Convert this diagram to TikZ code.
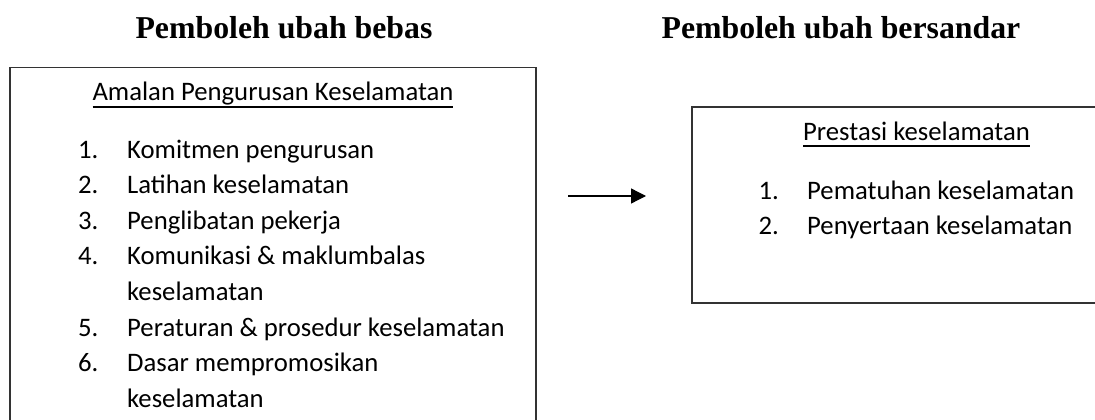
\documentclass[tikz,border=0pt]{standalone}
\usepackage{fontspec}
\setmainfont{Carlito}
\newfontfamily\titlefont{Liberation Serif}
\usetikzlibrary{arrows.meta}
\tikzset{judul/.style={font=\titlefont\bfseries\fontsize{31.8}{38}\selectfont,anchor=base,inner sep=0pt},
  kotak/.style={draw=black!80,line width=1.5pt,anchor=north west,inner sep=0pt},
  teks/.style={font=\fontsize{26.7}{36}\selectfont,anchor=base west,inner sep=0pt}}
\newsavebox{\garisbox}
\newcommand{\garis}[1]{\sbox{\garisbox}{#1}\rlap{\rule[-7pt]{\wd\garisbox}{2pt}}\usebox{\garisbox}}

\begin{document}
\begin{tikzpicture}[x=1pt,y=-1pt]
    \useasboundingbox (0,0) rectangle (1095,420);

    \node[judul] (bebas) at (284,39) {Pemboleh ubah bebas};
    \node[judul] (sandar) at (841,39) {Pemboleh ubah bersandar};

    % kotak kiri dan kanan
    \node[kotak,minimum width=526pt,minimum height=390pt] (amalan) at (9,67) {};
    \node[kotak,minimum width=430pt,minimum height=196pt] (prestasi) at (691,106) {};

    \node[teks,anchor=base] (tajukA) at (273,100.5) {\garis{Amalan Pengurusan Keselamatan}};
    \node[teks] (n1) at (78,158) {1.};
    \node[teks] (a1) at (127,158) {Komitmen pengurusan};
    \node[teks] (n2) at (78,193.6) {2.};
    \node[teks] (a2) at (127,193.6) {Latihan keselamatan};
    \node[teks] (n3) at (78,229.2) {3.};
    \node[teks] (a3) at (127,229.2) {Penglibatan pekerja};
    \node[teks] (n4) at (78,264.8) {4.};
    \node[teks] (a4) at (127,264.8) {Komunikasi \& maklumbalas};
    \node[teks] (a4b) at (127,300.4) {keselamatan};
    \node[teks] (n5) at (78,336) {5.};
    \node[teks] (a5) at (127,336) {Peraturan \& prosedur keselamatan};
    \node[teks] (n6) at (78,371.6) {6.};
    \node[teks] (a6) at (127,371.6) {Dasar mempromosikan};
    \node[teks] (a6b) at (127,407.2) {keselamatan};

    \node[teks,anchor=base] (tajukB) at (916.5,140) {\garis{Prestasi keselamatan}};
    \node[teks] (m1) at (758.5,199) {1.};
    \node[teks] (b1) at (807,199) {Pematuhan keselamatan};
    \node[teks] (m2) at (758.5,234.6) {2.};
    \node[teks] (b2) at (807,234.6) {Penyertaan keselamatan};

    \coordinate (mula) at (568,196);
    \coordinate (hujung) at (646,196);
    \draw [-{Triangle[length=15pt,width=15pt]},line width=1.3pt] (mula) to (hujung);
\end{tikzpicture}
\end{document}
